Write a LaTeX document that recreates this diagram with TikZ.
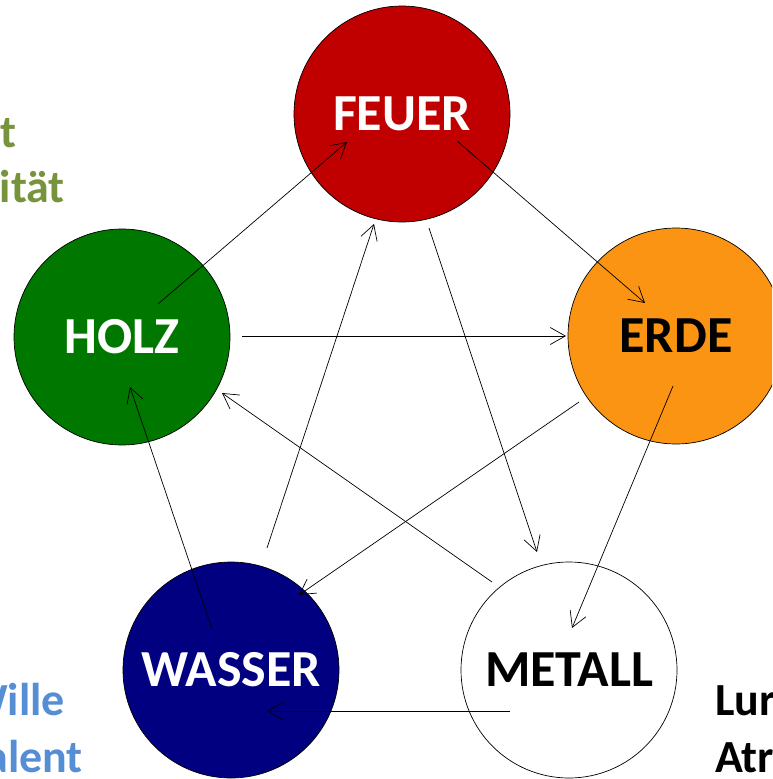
\documentclass[tikz,border=0pt]{standalone}
\usepackage{fontspec}
\setmainfont{Carlito}
\usetikzlibrary{arrows.meta}
\definecolor{feuerRed}{RGB}{192, 0, 0}
\definecolor{erdeOrange}{RGB}{250, 148, 18}
\definecolor{holzGreen}{RGB}{0, 120, 0}
\definecolor{wasserBlue}{RGB}{0, 0, 128}
\definecolor{textGreen}{RGB}{119, 147, 60}
\definecolor{textBlue}{RGB}{85, 142, 213}

\begin{document}
\begin{tikzpicture}[x=1pt, y=-1pt]
    \tikzstyle{element} = [circle, draw=black, line width=0.7pt, minimum size=216pt, inner sep=0pt, font=\fontsize{52}{62}\selectfont\bfseries]
    \tikzstyle{side} = [inner sep=0pt, font=\fontsize{46}{55}\selectfont\bfseries]
    \tikzstyle{arrow} = [-{Straight Barb[length=15pt, width=17pt]}, line width=0.7pt, black]

    \useasboundingbox (0,0) rectangle (772,779);
    \clip (0,0) rectangle (772,779);

    % side texts, cut by the page border
    \node[side, textGreen, anchor=base east] (kraft) at (17,147) {t};
    \node[side, textGreen, anchor=base east] (kreat) at (65,202) {ität};
    \node[side, textBlue, anchor=base east] (wille) at (65,715) {Wille};
    \node[side, textBlue, anchor=base east] (talent) at (83,772) {alent};
    \node[side, black, anchor=base west] (lunge) at (715,715) {Lur};
    \node[side, black, anchor=base west] (atem) at (715,772) {Atr};

    % the five elements
    \node[element, fill=feuerRed, text=white] (feuer) at (402,114) {FEUER};
    \node[element, fill=holzGreen, text=white] (holz) at (122,337) {HOLZ};
    \node[element, fill=erdeOrange, text=black] (erde) at (676,336) {ERDE};
    \node[element, fill=white, text=black] (metall) at (569,670) {METALL};
    \node[element, fill=wasserBlue, text=white] (wasser) at (231,670) {WASSER};

    % cycles
    \draw[arrow] ([shift={(36,-33)}]holz.center) -- ([shift={(-55,28)}]feuer.center);
    \draw[arrow] ([shift={(55,27)}]feuer.center) -- ([shift={(-31,-33)}]erde.center);
    \draw[arrow] ([shift={(120,-1)}]holz.center) -- ([shift={(-110,0)}]erde.center);
    \draw[arrow] ([shift={(-3,50)}]erde.center) -- ([shift={(3,-42)}]metall.center);
    \draw[arrow] ([shift={(27,114)}]feuer.center) -- ([shift={(-32,-118)}]metall.center);
    \draw[arrow] ([shift={(-59,41)}]metall.center) -- ([shift={(36,41)}]wasser.center);
    \draw[arrow] ([shift={(-77,-88)}]metall.center) -- ([shift={(100,56)}]holz.center);
    \draw[arrow] ([shift={(-97,66)}]erde.center) -- ([shift={(68,-75)}]wasser.center);
    \draw[arrow] ([shift={(36,-122)}]wasser.center) -- ([shift={(-28,110)}]feuer.center);
    \draw[arrow] ([shift={(-19,-41)}]wasser.center) -- ([shift={(8,50)}]holz.center);
\end{tikzpicture}
\end{document}
